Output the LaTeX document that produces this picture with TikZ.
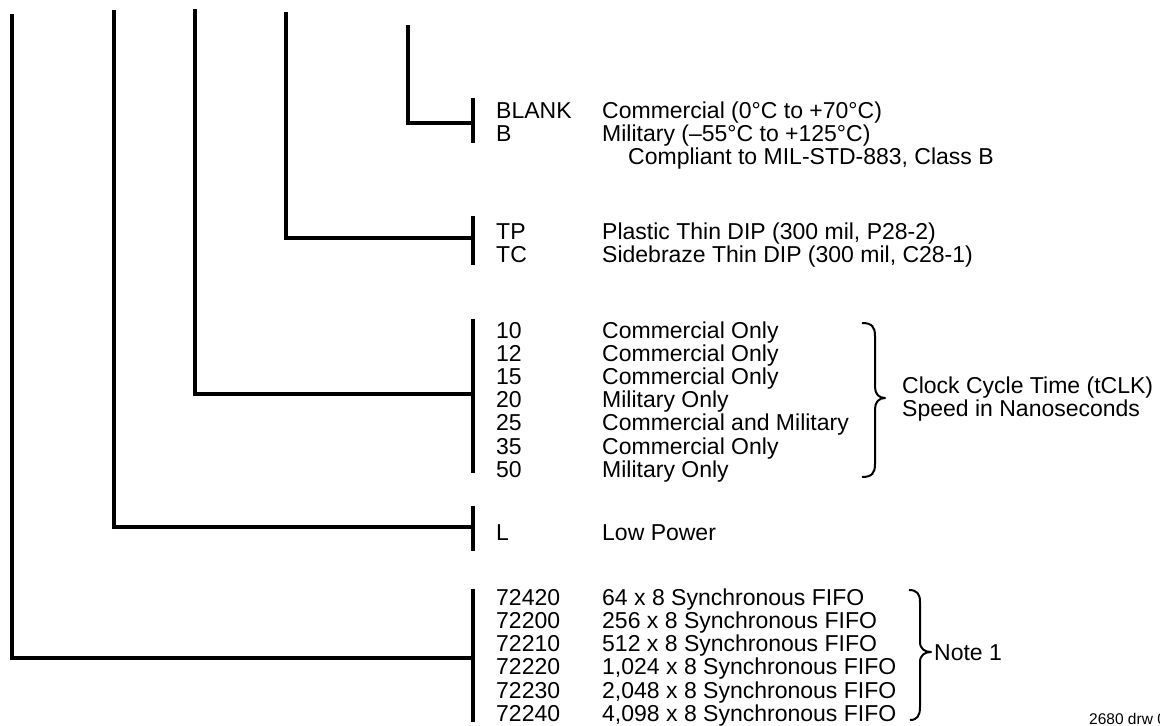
\documentclass[tikz,border=0pt]{standalone}
\usepackage{fontspec}
\setmainfont{Liberation Sans}
\begin{document}
\begin{tikzpicture}[x=1pt,y=-1pt,
  treeline/.style={line width=3.2pt,line join=miter},
  barline/.style={line width=3.6pt},
  bracepath/.style={line width=2pt,line join=round},
  txt/.style={anchor=base west,inner sep=0pt,font=\fontsize{23}{23}\selectfont},
  small/.style={anchor=base west,inner sep=0pt,font=\fontsize{15.5}{17}\selectfont}]
\useasboundingbox (0,0) rectangle (1160,726);

% tops of the tree lines
\coordinate (t1) at (408,25);
\coordinate (t2) at (286,12);
\coordinate (t3) at (195,9);
\coordinate (t4) at (114,10);
\coordinate (t5) at (12,14);
% junctions on the bars
\coordinate (j1) at (473,123);
\coordinate (j2) at (473,238);
\coordinate (j3) at (473,394);
\coordinate (j4) at (473,527);
\coordinate (j5) at (473,658);
% bar ends
\coordinate (b1a) at (473,98);  \coordinate (b1b) at (473,143);
\coordinate (b2a) at (473,216); \coordinate (b2b) at (473,265);
\coordinate (b3a) at (473,319); \coordinate (b3b) at (473,473);
\coordinate (b4a) at (473,506); \coordinate (b4b) at (473,551);
\coordinate (b5a) at (473,589); \coordinate (b5b) at (473,722);

\draw[treeline] (t1) |- (j1);
\draw[treeline] (t2) |- (j2);
\draw[treeline] (t3) |- (j3);
\draw[treeline] (t4) |- (j4);
\draw[treeline] (t5) |- (j5);
\draw[barline] (b1a) -- (b1b);
\draw[barline] (b2a) -- (b2b);
\draw[barline] (b3a) -- (b3b);
\draw[barline] (b4a) -- (b4b);
\draw[barline] (b5a) -- (b5b);

% group 1
\node[txt] (c1a) at (496,118) {BLANK};
\node[txt] (d1a) at (602,118) {Commercial (0°C to +70°C)};
\node[txt] (c1b) at (496,141.3) {B};
\node[txt] (d1b) at (602,141.3) {Military (–55°C to +125°C)};
\node[txt] (d1c) at (628,164.6) {Compliant to MIL-STD-883, Class B};

% group 2
\node[txt] (c2a) at (496,239) {TP};
\node[txt] (d2a) at (602,239) {Plastic Thin DIP (300 mil, P28-2)};
\node[txt] (c2b) at (496,262) {TC};
\node[txt] (d2b) at (602,262) {Sidebraze Thin DIP (300 mil, C28-1)};

% group 3
\node[txt] (c3a) at (496,338.0) {10};
\node[txt] (d3a) at (602,338.0) {Commercial Only};
\node[txt] (c3b) at (496,361.2) {12};
\node[txt] (d3b) at (602,361.2) {Commercial Only};
\node[txt] (c3c) at (496,384.4) {15};
\node[txt] (d3c) at (602,384.4) {Commercial Only};
\node[txt] (c3d) at (496,407.6) {20};
\node[txt] (d3d) at (602,407.6) {Military Only};
\node[txt] (c3e) at (496,430.8) {25};
\node[txt] (d3e) at (602,430.8) {Commercial and Military};
\node[txt] (c3f) at (496,454.0) {35};
\node[txt] (d3f) at (602,454.0) {Commercial Only};
\node[txt] (c3g) at (496,477.2) {50};
\node[txt] (d3g) at (602,477.2) {Military Only};
\draw[bracepath] (862,323) .. controls (872,323) and (875,327) .. (875,336)
  -- (875,387) .. controls (875,394) and (879,398) .. (885,398)
  .. controls (879,398) and (875,402) .. (875,409)
  -- (875,464) .. controls (875,473) and (872,477) .. (862,477);
\node[txt] (s1) at (902,393) {Clock Cycle Time (tCLK)};
\node[txt] (s2) at (902,416) {Speed in Nanoseconds};

% group 4
\node[txt] (c4) at (496,540) {L};
\node[txt] (d4) at (602,540) {Low Power};

% group 5
\node[txt] (c5a) at (496,605.2) {72420};
\node[txt] (d5a) at (602,605.2) {64 x 8 Synchronous FIFO};
\node[txt] (c5b) at (496,628.4) {72200};
\node[txt] (d5b) at (602,628.4) {256 x 8 Synchronous FIFO};
\node[txt] (c5c) at (496,651.6) {72210};
\node[txt] (d5c) at (602,651.6) {512 x 8 Synchronous FIFO};
\node[txt] (c5d) at (496,674.8) {72220};
\node[txt] (d5d) at (602,674.8) {1,024 x 8 Synchronous FIFO};
\node[txt] (c5e) at (496,698.0) {72230};
\node[txt] (d5e) at (602,698.0) {2,048 x 8 Synchronous FIFO};
\node[txt] (c5f) at (496,721.2) {72240};
\node[txt] (d5f) at (602,721.2) {4,098 x 8 Synchronous FIFO};
\draw[bracepath] (909,590) .. controls (917,590) and (920,594) .. (920,602)
  -- (920,642) .. controls (920,649) and (925,652) .. (931,652)
  .. controls (925,652) and (920,655) .. (920,662)
  -- (920,707) .. controls (920,716) and (917,720) .. (910,720);
\node[txt] (n1) at (934,660) {Note 1};

\node[small] (drw) at (1089,724) {2680 drw 01};
\end{tikzpicture}
\end{document}
